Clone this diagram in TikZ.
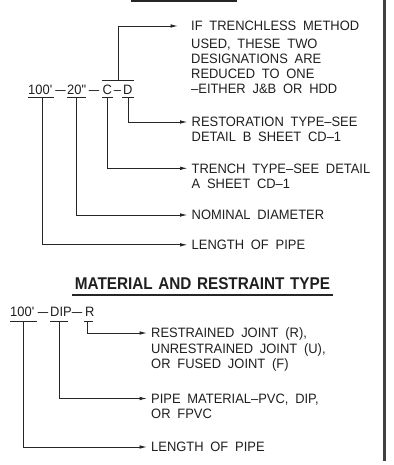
\documentclass[tikz,border=0pt]{standalone}
\usepackage{fontspec}
\usepackage{graphicx}
\setmainfont{Liberation Sans}[WordSpace=1.9, FakeStretch=0.95]
\newfontfamily\ttlfont{Liberation Sans}[WordSpace=1.3, FakeStretch=0.9]
\newcommand{\wdash}{\scalebox{1.45}[1]{--}}
\usetikzlibrary{arrows.meta}
\begin{document}
\begin{tikzpicture}[x=1pt,y=-1pt,
  txt/.style={font=\fontsize{13.6}{15.5}\selectfont, inner sep=0pt, anchor=base west, text=black!88},
  seg/.style={txt, anchor=base},
  lead/.style={line width=0.9pt, draw=black!85},
  arr/.style={lead, -{Latex[length=7.5pt,width=3.6pt]}},
  uline/.style={line width=1pt, draw=black!85},
  ttl/.style={font=\ttlfont\fontsize{17}{19}\selectfont\bfseries, inner sep=0pt, anchor=base, text=black!88},
]
\useasboundingbox[fill=white] (0,0) rectangle (393,465);
% right border and cut-off title underline
\draw[line width=3pt, draw=black!75] (384.5,0) -- (384.5,461);
\draw[line width=2pt, draw=black!85] (131,1.5) -- (237,1.5);

% ---------- upper designation ----------
\node[txt] (a1) at (28,94.7) {100\textquotesingle};
\node[seg] (d1) at (60.5,94.7) {\wdash};
\node[txt] (a2) at (67,94.7) {20\textquotedbl};
\node[seg] (d2) at (94,94.7) {\wdash};
\node[txt] (a3) at (102.5,94.7) {C};
\node[seg] (d3) at (117.5,94.7) {--};
\node[txt] (a4) at (123,94.7) {D};

\coordinate (ua1) at (42,98);
\coordinate (ua2) at (76,98);
\coordinate (ua3) at (107,98);
\coordinate (ua4) at (128,98);
\coordinate (ovr) at (118,81);
\draw[uline] (28,98) -- (54,98);
\draw[uline] (67,98) -- (86,98);
\draw[uline] (102,98) -- (113,98);
\draw[uline] (122,98) -- (134,98);
\draw[uline] (102,81) -- (134,81);

\node[txt] (t1) at (191,30.8) {IF TRENCHLESS METHOD};
\node[txt] (t2) at (191,48.3) {USED, THESE TWO};
\node[txt] (t3) at (191,63.6) {DESIGNATIONS ARE};
\node[txt] (t4) at (191,78.1) {REDUCED TO ONE};
\node[txt] (t5) at (191,93.1) {--EITHER J\&B OR HDD};

\node[txt] (r1) at (191.5,126.8) {RESTORATION TYPE--SEE};
\node[txt] (r2) at (191.5,141.8) {DETAIL B SHEET CD--1};
\node[txt] (c1) at (191.5,173.1) {TRENCH TYPE--SEE DETAIL};
\node[txt] (c2) at (191.5,188.1) {A SHEET CD--1};
\node[txt] (nd) at (191.5,219.8) {NOMINAL DIAMETER};
\node[txt] (lp) at (191.5,249.6) {LENGTH OF PIPE};

\draw[arr] (ovr) |- ([shift={(-13,-4.8)}]t1.base west);
\draw[arr] (ua4) |- ([shift={(-4,-4.8)}]r1.base west);
\draw[arr] (ua3) |- ([shift={(-4,-4.8)}]c1.base west);
\draw[arr] (ua2) |- ([shift={(-4,-4.8)}]nd.base west);
\draw[arr] (ua1) |- ([shift={(-4,-4.8)}]lp.base west);

% ---------- material and restraint type ----------
\node[ttl] (title) at (202.5,289.2) {MATERIAL AND RESTRAINT TYPE};
\draw[line width=1.8pt, draw=black!85] (72,295) -- (333,295);

\node[txt] (b1) at (10,316.8) {100\textquotesingle};
\node[seg] (e1) at (43,316.8) {\wdash};
\node[txt] (b2) at (50,316.8) {DIP};
\node[seg] (e2) at (77,316.8) {\wdash};
\node[txt] (b3) at (85,316.8) {R};

\coordinate (ub1) at (23,321);
\coordinate (ub2) at (59,321);
\coordinate (ub3) at (87,321);
\draw[uline] (10,321) -- (37,321);
\draw[uline] (50,321) -- (68,321);
\draw[uline] (84,321) -- (93,321);

\node[txt] (j1) at (151,337.8) {RESTRAINED JOINT (R),};
\node[txt] (j2) at (151,353.3) {UNRESTRAINED JOINT (U),};
\node[txt] (j3) at (151,368.8) {OR FUSED JOINT (F)};
\node[txt] (m1) at (151,403.3) {PIPE MATERIAL--PVC, DIP,};
\node[txt] (m2) at (151,418.6) {OR FPVC};
\node[txt] (l2) at (151,451.8) {LENGTH OF PIPE};

\draw[arr] (ub3) |- ([shift={(-4,-4.8)}]j1.base west);
\draw[arr] (ub2) |- ([shift={(-4,-4.8)}]m1.base west);
\draw[arr] (ub1) |- ([shift={(-4,-4.8)}]l2.base west);
\end{tikzpicture}
\end{document}
